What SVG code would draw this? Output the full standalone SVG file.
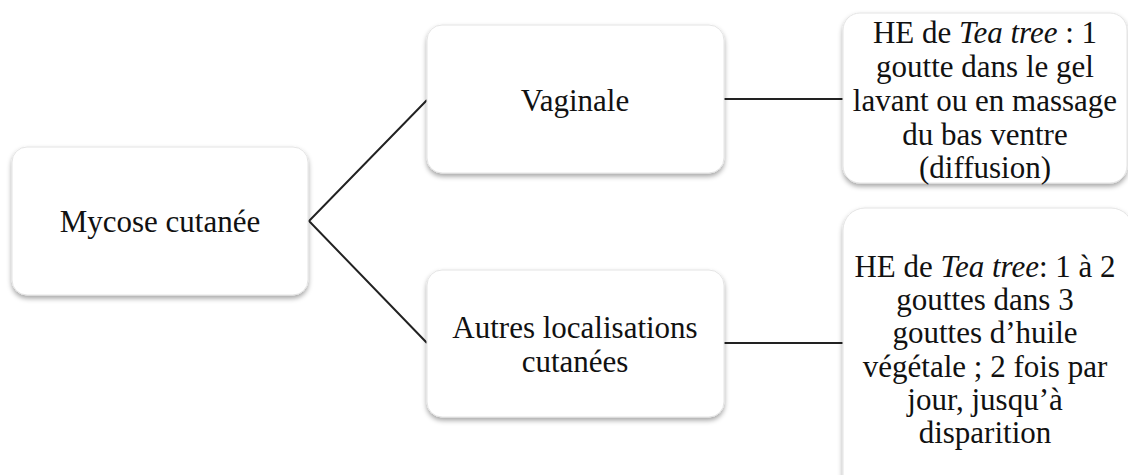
<svg xmlns="http://www.w3.org/2000/svg" width="1128" height="475" viewBox="0 0 1128 475">
<defs>
<filter id="sh" x="-10%" y="-10%" width="120%" height="130%">
<feDropShadow dx="0" dy="3" stdDeviation="2.5" flood-color="#000" flood-opacity="0.35"/>
</filter>
<style>
.box{fill:#fff;stroke:#e4e4e4;stroke-width:1;filter:url(#sh)}
.c{stroke:#222;stroke-width:2;fill:none}
text{font-family:'Liberation Serif','DejaVu Serif',serif;font-size:31px;fill:#111;text-anchor:middle}
</style>
</defs>
<rect width="1128" height="475" fill="#fff"/>
<g id="connectors">
<polyline class="c" points="427,100 309,221 427,343"/>
<line class="c" x1="723" y1="99" x2="843" y2="99"/>
<line class="c" x1="723" y1="343" x2="843" y2="343"/>
</g>
<g id="mycose">
<rect class="box" x="12" y="147" width="296" height="148" rx="15"/>
<text x="160" y="232">Mycose cutanée</text>
</g>
<g id="vaginale">
<rect class="box" x="427" y="25" width="297" height="148" rx="15"/>
<text x="575" y="111">Vaginale</text>
</g>
<g id="autres">
<rect class="box" x="427" y="270" width="297" height="147" rx="15"/>
<text x="575" y="338">Autres localisations</text>
<text x="575" y="372">cutanées</text>
</g>
<g id="vaginale-traitement">
<rect class="box" x="843" y="13" width="284" height="170" rx="17"/>
<text x="985" y="43">HE de <tspan font-style="italic">Tea tree</tspan> : 1</text>
<text x="985" y="77">goutte dans le gel</text>
<text x="985" y="111">lavant ou en massage</text>
<text x="985" y="145">du bas ventre</text>
<text x="985" y="178">(diffusion)</text>
</g>
<g id="autres-traitement">
<rect class="box" x="843" y="208" width="290" height="290" rx="22"/>
<text x="985" y="277">HE de <tspan font-style="italic">Tea tree</tspan>: 1 à 2</text>
<text x="985" y="310">gouttes dans 3</text>
<text x="985" y="343">gouttes d’huile</text>
<text x="985" y="377">végétale ; 2 fois par</text>
<text x="985" y="410">jour, jusqu’à</text>
<text x="985" y="443">disparition</text>
</g>
</svg>
